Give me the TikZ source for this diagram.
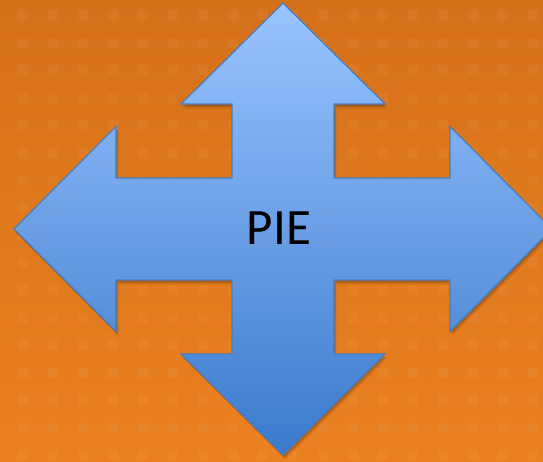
\documentclass[tikz,border=0pt]{standalone}
\usepackage{fontspec}
\setmainfont{Carlito}
\definecolor{bgtop}{RGB}{213,113,27}
\definecolor{bgbot}{RGB}{234,129,33}
\definecolor{arrtop}{RGB}{155,196,255}
\definecolor{arrbot}{RGB}{58,122,204}
\definecolor{arrline}{RGB}{70,124,192}
\newcommand\crosspath{(283,3) -- (385,104) -- (334,104) -- (334,178) -- (450,178) -- (450,126.5) -- (552,229) -- (450,331.5) -- (450,280) -- (334,280) -- (334,354) -- (385,354) -- (283,455) -- (181,354) -- (232,354) -- (232,280) -- (116,280) -- (116,331.5) -- (14,229) -- (116,126.5) -- (116,178) -- (232,178) -- (232,104) -- (181,104) -- cycle}
\tikzset{
  dotsq/.style={fill=white, opacity=0.045},
  crossshape/.style={top color=arrtop, bottom color=arrbot, draw=arrline, line width=1.2pt, line join=miter},
  shadowlayer/.style={fill=black, opacity=0.10},
  label/.style={font=\fontsize{51}{51}\selectfont, text=black, inner sep=0pt}
}
\begin{document}
\begin{tikzpicture}[x=1pt,y=-1pt]
\useasboundingbox (0,0) rectangle (543,461);
\clip (0,0) rectangle (543,461);
\shade[top color=bgtop, bottom color=bgbot] (0,0) rectangle (543,461);
\foreach \i in {0,...,17}{
  \foreach \j in {0,...,16}{
    \fill[dotsq] ({18+30*\i},{10+27.5*\j}) rectangle ++(10,10);
  }
}
\begin{scope}[shift={(1.5,3)}]
  \fill[shadowlayer] \crosspath;
\end{scope}
\begin{scope}[shift={(2.5,4.5)}]
  \fill[shadowlayer, opacity=0.07] \crosspath;
\end{scope}
\begin{scope}[shift={(1,2)}]
  \fill[shadowlayer, opacity=0.08] \crosspath;
\end{scope}
\shade[crossshape] \crosspath;
\node[label] (pie) at (279,228.5) {PIE};
\end{tikzpicture}
\end{document}
